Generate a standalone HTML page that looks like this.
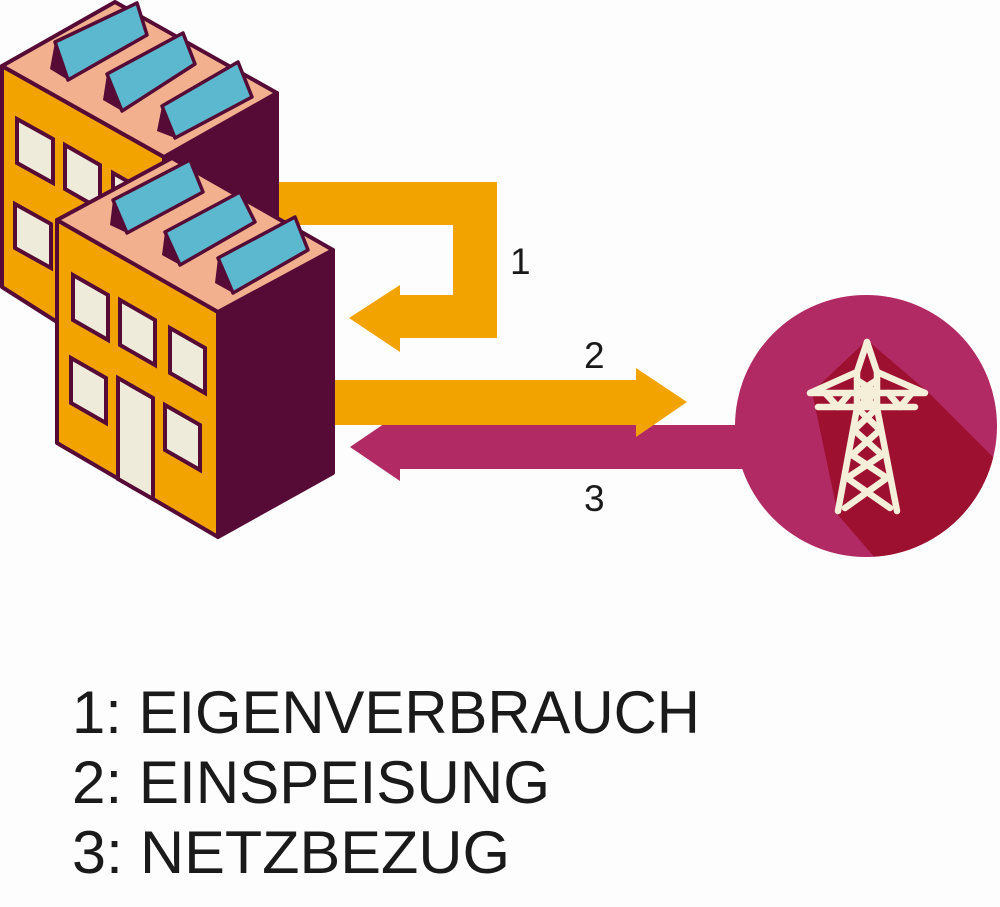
<!DOCTYPE html>
<html><head><meta charset="utf-8"><style>
html,body{margin:0;padding:0;background:#fdfdfd;}
svg{display:block;}
</style></head><body>
<svg width="1000" height="907" viewBox="0 0 1000 907" xmlns="http://www.w3.org/2000/svg">
<rect width="1000" height="907" fill="#fdfdfd"/>
<defs><clipPath id="cc"><circle cx="866" cy="426" r="131"/></clipPath></defs>

<!-- Arrow 1 -->
<path d="M277 182 H497 V338 H400 V352 L349 318 L400 285 V295 H453 V225 H277 Z" fill="#f3a300"/>
<!-- Arrow 3 (magenta) -->
<path d="M780 425 V469 H400 V481 L350 447 L400 413 V425 Z" fill="#b22a63"/>
<!-- Arrow 2 (orange) -->
<path d="M334 380 H636 V368 L687 402 L636 437 V425 H334 Z" fill="#f3a300"/>

<!-- Circle -->
<circle cx="866" cy="426" r="131" fill="#b22a63"/>
<g clip-path="url(#cc)">
<polygon points="867,340 928,392 1050,514 1050,760 838,515 812,392" fill="#9e1030"/>
</g>
<!-- Tower -->
<g stroke="#f5eed8" stroke-width="6.5" stroke-linecap="round" stroke-linejoin="round" fill="none">
<path d="M867 342 L857 372 L857 408 L838 511"/>
<path d="M867 342 L877 372 L877 408 L897 511"/>
<path d="M857 372 L810 393 L925 393 L877 372"/>
<path d="M818 407 L915 407"/>
<path d="M825 393 L838 407 L850 393 M888 393 L900 407 L912 393"/>
<path d="M857 380 L877 393 L857 407 M877 380 L857 393 L877 407"/>
<path d="M857 408 L880 430 L852 455 L887 478 L845 508 M877 408 L854 430 L882 455 L847 478 L890 508"/>
</g>

<!-- Back building -->
<g stroke="#560a36" stroke-width="4" stroke-linejoin="round">
<polygon points="164,157 277,93 277,330 164,390" fill="#560a36"/>
<polygon points="2,66 164,157 164,390 2,287" fill="#f3a300"/>
<polygon points="2,66 115,2 277,93 164,157" fill="#f2b08e"/>
</g>
<g stroke="#560a36" stroke-width="4" fill="#efebda">
<polygon points="17,119 53,139 53,183 17,163"/>
<polygon points="65,145 100,165 100,209 65,189"/>
<polygon points="113,173 148,193 148,237 113,217"/>
<polygon points="15,204 51,224 51,268 15,248"/>
</g>
<g fill="#560a36">
<polygon points="50,69 68,80 55,42"/>
<polygon points="103,100 122,111 107,74"/>
<polygon points="157,131 175,138 162,106"/>
</g>
<g stroke="#560a36" stroke-width="3.5" fill="#5bb8cf" stroke-linejoin="round">
<polygon points="55,42 137,3 147,35 68,80"/>
<polygon points="107,74 183,33 195,64 122,111"/>
<polygon points="162,106 238,62 252,97 175,138"/>
</g>

<!-- Front building -->
<g stroke="#560a36" stroke-width="4" stroke-linejoin="round">
<polygon points="218,312 333,250 333,473 218,537" fill="#560a36"/>
<polygon points="57,220 218,312 218,537 57,443" fill="#f3a300"/>
<polygon points="57,220 172,158 333,250 218,312" fill="#f2b08e"/>
</g>
<g stroke="#560a36" stroke-width="4" fill="#efebda">
<polygon points="73,275 108,295 108,340 73,320"/>
<polygon points="120,300 155,320 155,365 120,345"/>
<polygon points="170,328 205,348 205,393 170,373"/>
<polygon points="71,358 106,378 106,423 71,403"/>
<polygon points="118,378 153,398 153,499 118,479"/>
<polygon points="165,405 200,425 200,470 165,450"/>
</g>
<g fill="#560a36">
<polygon points="110,225 127,233 113,200"/>
<polygon points="162,255 180,265 165,232"/>
<polygon points="215,283 233,293 218,258"/>
</g>
<g stroke="#560a36" stroke-width="3.5" fill="#5bb8cf" stroke-linejoin="round">
<polygon points="113,200 190,160 203,192 127,233"/>
<polygon points="165,232 240,192 255,222 180,265"/>
<polygon points="218,258 295,217 308,250 233,293"/>
</g>

<!-- Labels -->
<g font-family="'Liberation Sans', sans-serif" fill="#1a1a1a">
<text x="510" y="274" font-size="37">1</text>
<text x="584" y="368" font-size="37">2</text>
<text x="584" y="511" font-size="37">3</text>
<text x="72" y="733" font-size="60" textLength="628" lengthAdjust="spacingAndGlyphs">1: EIGENVERBRAUCH</text>
<text x="72" y="803" font-size="60" textLength="478" lengthAdjust="spacingAndGlyphs">2: EINSPEISUNG</text>
<text x="72" y="873" font-size="60" textLength="438" lengthAdjust="spacingAndGlyphs">3: NETZBEZUG</text>
</g>
</svg>
</body></html>
